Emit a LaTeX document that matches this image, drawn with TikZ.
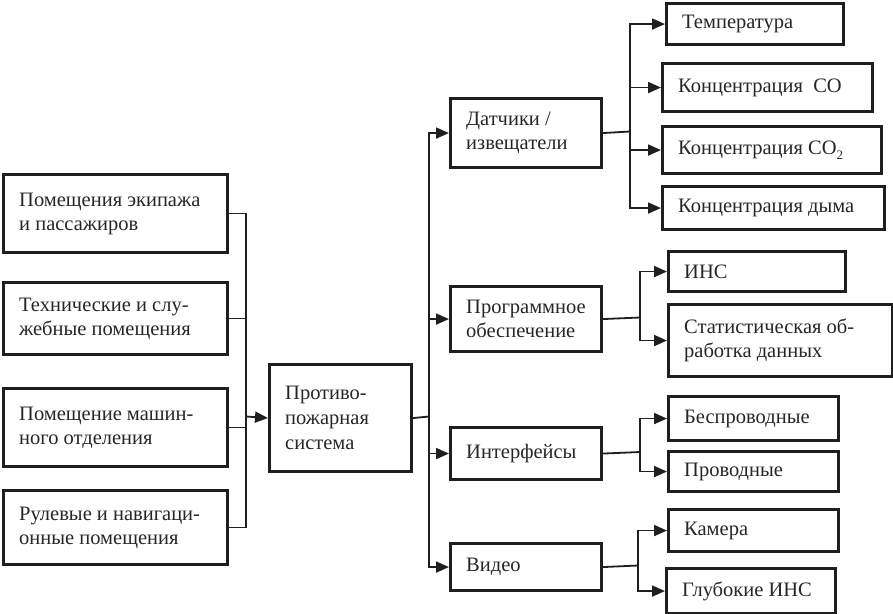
\documentclass[tikz,border=0pt]{standalone}
\usepackage{fontspec}
\setmainfont{Liberation Serif}
\usetikzlibrary{arrows.meta}
\tikzset{
  bx/.style={draw=black!88, line width=3.1pt, anchor=north west, inner ysep=0pt, inner xsep=0pt},
  tx/.style={anchor=west, align=left, inner sep=0pt, font=\fontsize{20.5}{24}\selectfont, text=black!85},
  conn/.style={draw=black!88, line width=1.8pt},
  arr/.style={conn, -{Triangle[length=13pt,width=11pt]}},
}
% box: name, x, y, w, h, text
\newcommand{\mybox}[6]{%
  \node[bx, minimum width=#4pt, minimum height=#5pt] (#1) at (#2,#3) {};
  \node[tx] (#1t) at ([xshift=17pt]#1.west) {#6};
}
\begin{document}
\begin{tikzpicture}[x=1pt,y=-1pt]
\useasboundingbox (0,0) rectangle (893,613);
% left column
\mybox{a1}{2}{173}{224}{78}{Помещения экипажа\\и пассажиров}
\mybox{a2}{2}{281}{224}{72}{Технические и слу-\\жебные помещения}
\mybox{a3}{2}{387}{224}{78}{Помещение машин-\\ного отделения}
\mybox{a4}{2}{489}{224}{74}{Рулевые и навигаци-\\онные помещения}
% center
\mybox{c}{268}{363}{142}{107}{Противо-\\[1pt]пожарная\\[1pt]система}
% second column
\mybox{d}{449}{97}{151}{69}{Датчики /\\извещатели}
\mybox{p}{449}{285}{151}{65}{Программное\\обеспечение}
\mybox{i}{449}{426}{151}{52}{Интерфейсы}
\mybox{v}{449}{542}{151}{47}{Видео}
% third column
\mybox{t1}{665}{2}{177}{41}{Температура}
\mybox{t2}{661}{62}{210}{48}{Концентрация\ \ CO}
\mybox{t3}{661}{125}{219}{47}{Концентрация CO\raisebox{-0.55ex}{\fontsize{13}{13}\selectfont 2}}
\mybox{t4}{661}{185}{222}{43}{Концентрация дыма}
\mybox{p1}{667}{250}{177}{40}{ИНС}
\mybox{p2}{667}{303}{224}{72}{Статистическая об-\\работка данных}
\mybox{i1}{667}{395}{170}{44}{Беспроводные}
\mybox{i2}{667}{450}{170}{40}{Проводные}
\mybox{v1}{667}{508}{170}{42}{Камера}
\mybox{v2}{665}{567}{169}{45}{Глубокие ИНС}
% connectors left
\coordinate (tL) at (246,416.5);
\foreach \n in {a1,a2,a3,a4} \draw[conn] (\n.east) -| (tL);
\draw[arr] (tL) -- (c.west);
% trunk right
\coordinate (tR) at (429,416.5);
\draw[conn] (c.east) -- (tR);
\foreach \n in {d,p,i,v} \draw[arr] (tR) |- (\n.west);
% branches
\coordinate (dJ) at (630,131.5);
\draw[conn] (d.east) -- (dJ);
\foreach \n in {t1,t2,t3,t4} \draw[arr] (dJ) |- (\n.west);
\coordinate (pJ) at (640,317.5);
\draw[conn] (p.east) -- (pJ);
\foreach \n in {p1,p2} \draw[arr] (pJ) |- (\n.west);
\coordinate (iJ) at (640,452);
\draw[conn] (i.east) -- (iJ);
\foreach \n in {i1,i2} \draw[arr] (iJ) |- (\n.west);
\coordinate (vJ) at (638,565.5);
\draw[conn] (v.east) -- (vJ);
\foreach \n in {v1,v2} \draw[arr] (vJ) |- (\n.west);
\end{tikzpicture}
\end{document}
